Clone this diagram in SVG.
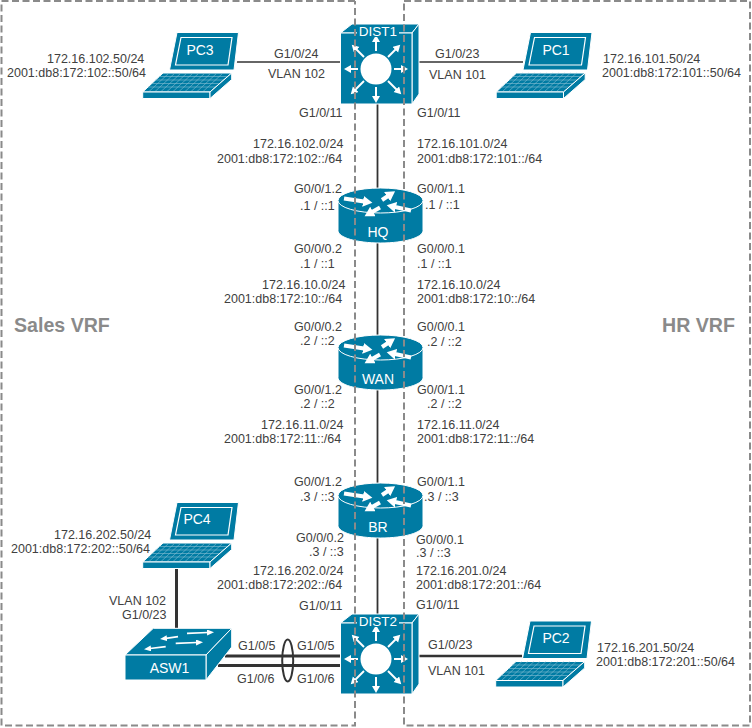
<svg xmlns="http://www.w3.org/2000/svg" width="752" height="728" viewBox="0 0 752 728">
<style>
text{font-family:"Liberation Sans",Arial,sans-serif;font-size:12.5px;fill:#404040}
.nl{font-size:14px;fill:#fff;text-anchor:middle}
.vrf{font-size:19.6px;font-weight:bold;fill:#8a8a8a}
.body{fill:#007ba3;stroke:#fff;stroke-width:1;stroke-linejoin:round}
.plain{fill:#007ba3}
.edge{fill:none;stroke:#fff;stroke-width:1.2}
.keys{fill:none;stroke:#86c0d4;stroke-width:.6}
.arr{fill:none;stroke:#fff;stroke-width:2;marker-end:url(#head)}
.rarr{fill:none;stroke:#fff;stroke-width:4;marker-end:url(#rhead)}
.sarr{fill:none;stroke:#fff;stroke-width:1.7;marker-end:url(#shead)}
.link{stroke:#333;fill:none}
.zone{fill:none;stroke:#8a8a8a;stroke-width:2;stroke-dasharray:7 3.5}
</style>
<defs>
<marker id="head" markerUnits="userSpaceOnUse" markerWidth="10" markerHeight="10" refX="1" refY="4" orient="auto"><path d="M0 0L7 4L0 8Z" fill="#fff"/></marker>
<marker id="rhead" markerUnits="userSpaceOnUse" markerWidth="13" markerHeight="13" refX="1" refY="5.5" orient="auto"><path d="M0 0L9.500 5.500L0 11Z" fill="#fff"/></marker>
<marker id="shead" markerUnits="userSpaceOnUse" markerWidth="10" markerHeight="8" refX="1" refY="3" orient="auto"><path d="M0 0L7 3L0 6Z" fill="#fff"/></marker>
<g id="laptop">
<path class="body" d="M177 32.500L238.500 32.500L234 70L169.500 70Z"/>
<path class="edge" d="M240 34L235.500 69"/>
<path class="edge" d="M181 37.500L232 37.500L228 65L175.500 65Z"/>
<path class="body" d="M163 73L231.700 73L210 92L142.700 92Z"/>
<path class="keys" d="M159 76.500H228M155.500 80H224M151.800 83.500H220M148 87H216M169 73L148.500 92M175 73L154.500 92M181 73L160.500 92M187 73L166.500 92M193 73L172.500 92M199 73L178.500 92M205 73L184.500 92M211 73L190.500 92M217 73L196.500 92M223 73L202.500 92"/>
<path class="body" d="M142.700 92H210V98.500H142.700Z"/>
<path class="body" d="M210 92L231.700 73V79.500L210 98.500Z"/>
</g>
<g id="l3switch">
<path class="body" d="M340.500 33L352 24H419L412 33Z"/>
<path class="body" d="M412 33L419 24V94L412 104Z"/>
<path class="body" d="M340.500 33H412V104H340.500Z"/>
<circle cx="376" cy="69" r="15.500" fill="#fff"/>
<path class="arr" d="M376 51V41"/>
<path class="arr" d="M376 87V97"/>
<path class="arr" d="M358 69H350"/>
<path class="arr" d="M394 69H402"/>
<path class="arr" d="M388 57L396 49"/>
<path class="arr" d="M364 57L356 49"/>
<path class="arr" d="M364 81L355 90"/>
<path class="arr" d="M388 81L397 90"/>
</g>
<g id="router">
<path class="body" d="M338 200.500V230.500C338 237.500 356.500 243 380.500 243S423 237.500 423 230.500V200.500Z"/>
<ellipse class="body" cx="380.500" cy="200.500" rx="42.500" ry="12.500"/>
<path class="rarr" d="M344 198.500L364 201.500"/>
<path class="rarr" d="M382 200L388 196"/>
<path class="rarr" d="M411 210.500L395 207"/>
<path class="rarr" d="M380 207.500L372 212"/>
</g>
</defs>

<g id="connectors">
<path class="link" stroke-width="1.500" d="M236 62H340"/>
<path class="link" stroke-width="1.500" d="M419 62H523"/>
<path class="link" stroke-width="1.800" d="M377.500 104V190"/>
<path class="link" stroke-width="1.800" d="M377.500 243V336"/>
<path class="link" stroke-width="1.800" d="M377.500 390V483"/>
<path class="link" stroke-width="1.800" d="M377.500 537V624"/>
<path class="link" stroke-width="2.500" d="M419 656H522"/>
<path class="link" stroke-width="3" d="M176.500 568V628"/>
<path class="link" stroke-width="3" d="M225 656H340"/>
<path class="link" stroke-width="3" d="M218 665.500H340"/>
<ellipse class="link" stroke-width="2" cx="287.700" cy="660.500" rx="5.500" ry="21"/>
</g>

<g id="PC3"><use href="#laptop"/><text class="nl" x="200" y="55">PC3</text></g>
<g id="PC1"><use href="#laptop" x="353.500"/><text class="nl" x="556" y="55">PC1</text></g>
<g id="PC4"><use href="#laptop" y="470"/><text class="nl" x="197" y="524">PC4</text></g>
<g id="PC2"><use href="#laptop" x="353" y="588.500"/><text class="nl" x="556" y="643">PC2</text></g>

<g id="DIST1"><use href="#l3switch"/><path class="plain" d="M357 26H399V37H357Z"/><text class="nl" style="font-size:13.500px" x="378" y="36">DIST1</text></g>
<g id="DIST2"><use href="#l3switch" y="590"/><path class="plain" d="M357 616H399V627H357Z"/><text class="nl" style="font-size:13.500px" x="378" y="626">DIST2</text></g>

<g id="HQ"><use href="#router"/><text class="nl" x="378" y="237">HQ</text></g>
<g id="WAN"><use href="#router" y="147"/><text class="nl" x="378" y="384">WAN</text></g>
<g id="BR"><use href="#router" y="295"/><text class="nl" x="378" y="532">BR</text></g>

<g id="ASW1">
<path class="body" d="M125 655L153.300 628.300H231.700L206 655Z"/>
<path class="body" d="M206 655L231.700 628.300V647L206 680Z"/>
<path class="body" d="M125 655H206V680H125Z"/>
<path class="sarr" d="M187 633.300L208 632.500"/>
<path class="sarr" d="M178 636.700L166 638.300"/>
<path class="sarr" d="M175.700 643.300L197 642.500"/>
<path class="sarr" d="M165.700 646.700L150 648.500"/>
<text class="nl" x="169.500" y="673">ASW1</text>
</g>

<g id="zones">
<path class="zone" d="M355 1H1.500V725.500H355V1"/>
<path class="zone" d="M404 1H750V725.500H404V1"/>
</g>

<g id="labels">
<text class="vrf" x="14" y="332">Sales VRF</text>
<text class="vrf" x="662" y="332">HR VRF</text>

<text x="47" y="62.500">172.16.102.50/24</text>
<text x="7" y="77">2001:db8:172:102::50/64</text>
<text x="274" y="58">G1/0/24</text>
<text x="268" y="78">VLAN 102</text>
<text x="299" y="117">G1/0/11</text>
<text x="253" y="148">172.16.102.0/24</text>
<text x="217" y="162.500">2001:db8:172:102::/64</text>
<text x="294" y="193">G0/0/1.2</text>
<text x="300" y="210">.1 / ::1</text>

<text x="435" y="58">G1/0/23</text>
<text x="429" y="79">VLAN 101</text>
<text x="417" y="117">G1/0/11</text>
<text x="417" y="148">172.16.101.0/24</text>
<text x="417" y="162.500">2001:db8:172:101::/64</text>
<text x="417" y="193">G0/0/1.1</text>
<text x="425" y="209">.1 / ::1</text>
<text x="603" y="62.500">172.16.101.50/24</text>
<text x="602" y="76.500">2001:db8:172:101::50/64</text>

<text x="294" y="253">G0/0/0.2</text>
<text x="300" y="268">.1 / ::1</text>
<text x="262" y="289">172.16.10.0/24</text>
<text x="224" y="303">2001:db8:172:10::/64</text>
<text x="294" y="331">G0/0/0.2</text>
<text x="300" y="345">.2 / ::2</text>
<text x="294" y="394">G0/0/1.2</text>
<text x="300" y="408">.2 / ::2</text>
<text x="261" y="429">172.16.11.0/24</text>
<text x="224" y="443">2001:db8:172:11::/64</text>
<text x="294" y="486">G0/0/1.2</text>
<text x="300" y="501">.3 / ::3</text>

<text x="417" y="253">G0/0/0.1</text>
<text x="417" y="268">.1 / ::1</text>
<text x="417" y="289">172.16.10.0/24</text>
<text x="417" y="303">2001:db8:172:10::/64</text>
<text x="417" y="331">G0/0/0.1</text>
<text x="427" y="346">.2 / ::2</text>
<text x="417" y="394">G0/0/1.1</text>
<text x="427" y="408">.2 / ::2</text>
<text x="417" y="429">172.16.11.0/24</text>
<text x="417" y="443">2001:db8:172:11::/64</text>
<text x="417" y="486">G0/0/1.1</text>
<text x="424" y="501">.3 / ::3</text>

<text x="54" y="539">172.16.202.50/24</text>
<text x="11" y="553">2001:db8:172:202::50/64</text>
<text x="296" y="542">G0/0/0.2</text>
<text x="309" y="556">.3 / ::3</text>
<text x="253" y="575">172.16.202.0/24</text>
<text x="217" y="589">2001:db8:172:202::/64</text>
<text x="299" y="610">G1/0/11</text>
<text x="109" y="605">VLAN 102</text>
<text x="122" y="619">G1/0/23</text>
<text x="238" y="650">G1/0/5</text>
<text x="297" y="650">G1/0/5</text>
<text x="237" y="683">G1/0/6</text>
<text x="297" y="683">G1/0/6</text>

<text x="416" y="543.500">G0/0/0.1</text>
<text x="416" y="556.500">.3 / ::3</text>
<text x="416" y="575">172.16.201.0/24</text>
<text x="416" y="589">2001:db8:172:201::/64</text>
<text x="416" y="608.500">G1/0/11</text>
<text x="428" y="649">G1/0/23</text>
<text x="428" y="675">VLAN 101</text>
<text x="597" y="652">172.16.201.50/24</text>
<text x="596" y="666">2001:db8:172:201::50/64</text>
</g>
</svg>
